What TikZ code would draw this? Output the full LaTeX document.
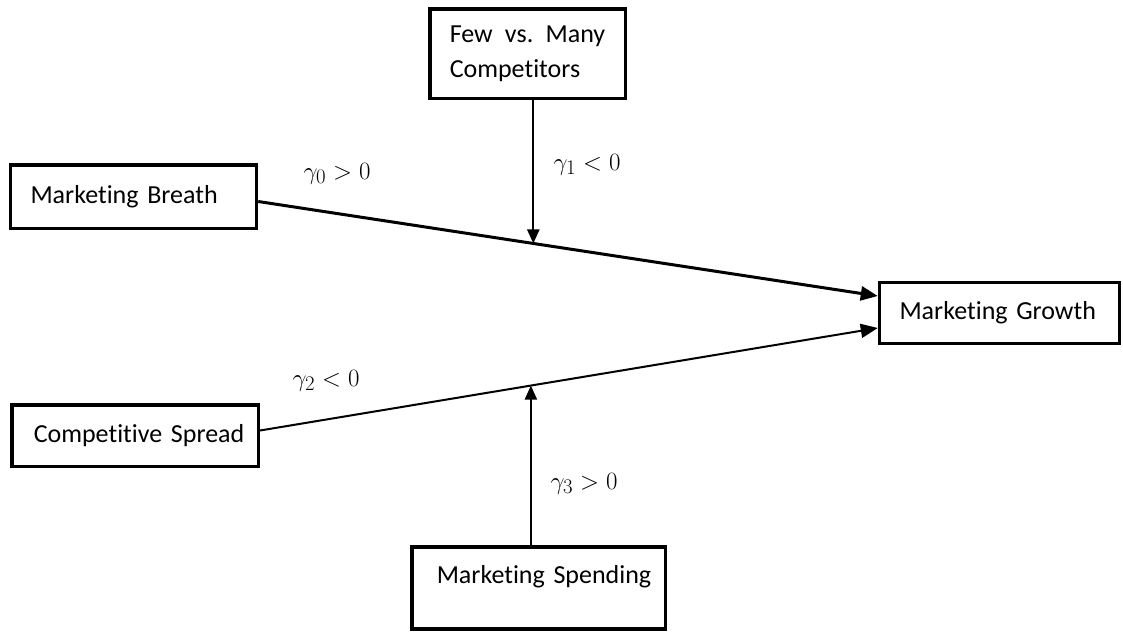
\documentclass[tikz,border=0pt]{standalone}
\usepackage{fontspec}
\setmainfont{Carlito}[Ligatures=CommonOff]
\usepackage{tikz}
\usetikzlibrary{arrows.meta}

\begin{document}
\begin{tikzpicture}[x=1pt,y=-1pt,
    box/.style={draw,line width=3.5pt,inner xsep=20pt,align=left,font=\fontsize{26}{35}\selectfont},
    lbl/.style={anchor=base,font=\fontsize{29}{33}\selectfont},
    mainarrow/.style={-{Triangle[length=17pt,width=14pt]}},
    modarrow/.style={line width=2.2pt,-{Triangle[length=14pt,width=12pt]}}]
    \useasboundingbox (0,0) rectangle (1123,635);

    % boxes
    \node [box, text width=206pt, minimum height=63.5pt] (breath) at (133.5,196.5) {\mbox{Marketing Breath}};
    \node [box, inner xsep=22pt, text width=202.5pt, minimum height=61.5pt] (spread) at (135,435.5) {\mbox{Competitive Spread}};
    \node [box, text width=200pt, minimum height=61pt] (growth) at (999.5,313) {\mbox{Marketing Growth}};
    \node [box, text width=155.5pt, minimum height=89.5pt] (few) at (527.5,53.5) {Few\hfill vs.\hfill Many\\Competitors};
    \node [box, anchor=north, inner xsep=25pt, text width=203.5pt, inner ysep=17pt,
        text height=20pt, text depth=28pt] (spend) at (538.5,545) {\mbox{Marketing Spending}};

    % paths
    \draw [mainarrow, line width=3pt] ([yshift=-5pt]breath.east) -- coordinate[pos=0.444] (m1) ([yshift=17pt]growth.west);
    \draw [mainarrow, line width=2pt] ([yshift=5pt]spread.east) -- coordinate[pos=0.4385] (m2) ([yshift=-15pt]growth.west);
    \draw [modarrow] (m1 |- few.south) -- (m1);
    \draw [modarrow] (m2 |- spend.north) -- (m2);

    % coefficients
    \node [lbl] (g0) at (337,179) {$\gamma_0>0$};
    \node [lbl] (g1) at (587,170) {$\gamma_1<0$};
    \node [lbl] (g2) at (326,386) {$\gamma_2<0$};
    \node [lbl] (g3) at (584,489) {$\gamma_3>0$};
\end{tikzpicture}
\end{document}
